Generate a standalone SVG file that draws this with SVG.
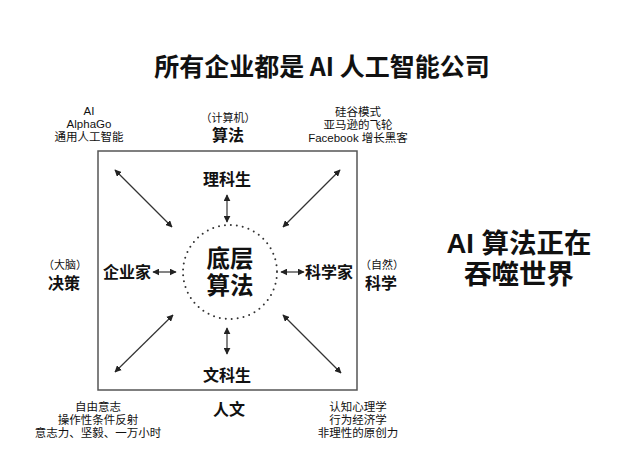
<svg xmlns="http://www.w3.org/2000/svg" width="640" height="469" viewBox="0 0 640 469">
<defs>
<style>
text{font-family:"Liberation Sans","Noto Sans CJK SC",sans-serif;fill:#111;text-anchor:middle}
.t{font-size:25px;font-weight:700;font-family:"Noto Sans CJK SC","Liberation Sans",sans-serif}
.s{font-size:11.5px}
.p{font-size:11px}
.b{font-size:16px;font-weight:700}
.c{font-size:23.5px;font-weight:700}
.r{font-size:27.5px;font-weight:700}
.ar{stroke:#333;stroke-width:1.2;fill:none;marker-start:url(#ah);marker-end:url(#ah)}
</style>
<marker id="ah" viewBox="0 0 10 10" refX="9" refY="5" markerWidth="7" markerHeight="7" markerUnits="userSpaceOnUse" orient="auto-start-reverse">
<path d="M0,0 L10,5 L0,10 Z" fill="#222"/>
</marker>
</defs>
<rect width="640" height="469" fill="#fff"/>
<text class="t" x="322" y="76">所有企业都是 AI 人工智能公司</text>
<g id="frame"><rect x="98" y="151" width="259" height="239" fill="none" stroke="#555" stroke-width="1.5"/></g>
<g id="core">
<circle cx="230" cy="272" r="47" fill="none" stroke="#333" stroke-width="2" stroke-dasharray="0 6" stroke-linecap="round"/>
<text class="c" x="230" y="267">底层</text>
<text class="c" x="230" y="294">算法</text>
</g>
<g id="n-top"><text class="b" x="227" y="185">理科生</text></g>
<g id="n-bottom"><text class="b" x="227" y="381">文科生</text></g>
<g id="n-left"><text class="b" x="127" y="278">企业家</text></g>
<g id="n-right"><text class="b" x="329" y="278">科学家</text></g>
<g id="tl">
<text class="s" x="89" y="115">AI</text>
<text class="s" x="89" y="128">AlphaGo</text>
<text class="s" x="89" y="141">通用人工智能</text>
</g>
<g id="tc">
<text class="p" x="228" y="122">（计算机）</text>
<text class="b" x="228" y="141">算法</text>
</g>
<g id="tr">
<text class="s" x="358" y="116">硅谷模式</text>
<text class="s" x="358" y="129">亚马逊的飞轮</text>
<text class="s" x="358" y="142">Facebook 增长黑客</text>
</g>
<g id="ml">
<text class="p" x="65" y="269">（大脑）</text>
<text class="b" x="64" y="289">决策</text>
</g>
<g id="mr">
<text class="p" x="382" y="269">（自然）</text>
<text class="b" x="381" y="289">科学</text>
</g>
<g id="bl">
<text class="s" x="98" y="411">自由意志</text>
<text class="s" x="98" y="424">操作性条件反射</text>
<text class="s" x="98" y="437">意志力、坚毅、一万小时</text>
</g>
<g id="bc"><text class="b" x="229" y="415">人文</text></g>
<g id="br">
<text class="s" x="358" y="411">认知心理学</text>
<text class="s" x="358" y="424">行为经济学</text>
<text class="s" x="358" y="437">非理性的原创力</text>
</g>
<g id="side">
<text class="r" x="519" y="253">AI 算法正在</text>
<text class="r" x="519" y="284">吞噬世界</text>
</g>
<g id="connectors">
<line class="ar" x1="115" y1="170" x2="172" y2="227"/>
<line class="ar" x1="340" y1="170" x2="283" y2="227"/>
<line class="ar" x1="115" y1="372" x2="173" y2="315"/>
<line class="ar" x1="341" y1="373" x2="283" y2="315"/>
<line class="ar" x1="227" y1="195" x2="227" y2="222"/>
<line class="ar" x1="227" y1="328" x2="227" y2="354"/>
<line class="ar" x1="153" y1="272" x2="176" y2="272"/>
<line class="ar" x1="281" y1="272" x2="304" y2="272"/>
</g>
</svg>
